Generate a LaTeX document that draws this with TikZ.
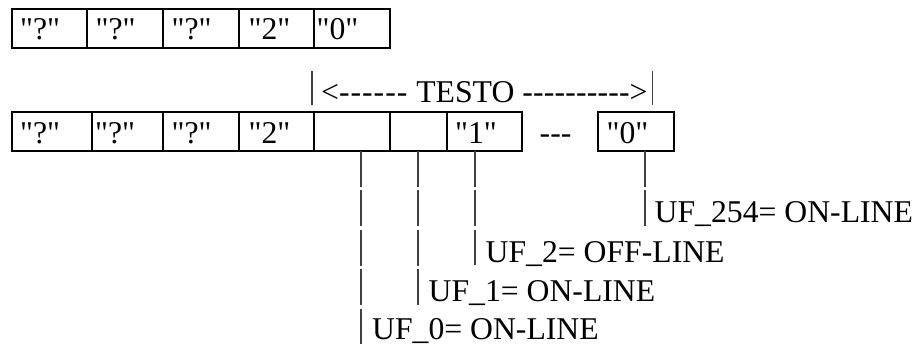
\documentclass[tikz,border=0pt]{standalone}
\usepackage{fontspec}
\setmainfont{Liberation Serif}[Ligatures=TeXOff]
\begin{document}
\begin{tikzpicture}[x=1pt,y=-1pt,
  cell/.style={draw=black, line width=2pt, anchor=north west, minimum height=39.5pt, inner sep=0pt, outer sep=0pt},
  txt/.style={anchor=base west, inner sep=0pt, font=\fontsize{31.7}{38}\selectfont},
  conn/.style={draw=black!75, line width=1.3pt, dash pattern=on 35.8pt off 3.6pt},
  bar/.style={draw=black!75, line width=1.3pt}]
\useasboundingbox (0,0) rectangle (919,345);
% row 1
\node[cell, minimum width=75pt] (a1) at (12,9) {};
\node[cell, minimum width=76pt] (a2) at (87,9) {};
\node[cell, minimum width=76pt] (a3) at (163,9) {};
\node[cell, minimum width=75pt] (a4) at (239,9) {};
\node[cell, minimum width=76pt] (a5) at (314,9) {};
\node[txt] (ta1) at (20,39.5) {"?"};
\node[txt] (ta2) at (95.5,39.5) {"?"};
\node[txt] (ta3) at (171.5,39.5) {"?"};
\node[txt] (ta4) at (248.5,39.5) {"2"};
\node[txt] (ta5) at (316.5,39.5) {"0"};
% testo
\coordinate (l1) at (312,71); \coordinate (l2) at (312,105);
\coordinate (r1) at (652.5,71); \coordinate (r2) at (652.5,105);
\draw[bar] (l1) -- (l2);
\draw[bar] (r1) -- (r2);
\node[txt] (testo) at (321,102.5) {<-\kern1pt-\kern1pt-\kern1pt-\kern1pt-\kern1pt-\kern1pt{} TESTO -\kern0.2pt-\kern0.2pt-\kern0.2pt-\kern0.2pt-\kern0.2pt-\kern0.2pt-\kern0.2pt-\kern0.2pt-\kern0.2pt->};
% row 2
\node[cell, minimum width=80pt] (b1) at (12,111.5) {};
\node[cell, minimum width=71pt] (b2) at (92,111.5) {};
\node[cell, minimum width=76pt] (b3) at (163,111.5) {};
\node[cell, minimum width=75pt] (b4) at (239,111.5) {};
\node[cell, minimum width=76pt] (b5) at (314,111.5) {};
\node[cell, minimum width=57pt] (b6) at (390,111.5) {};
\node[cell, minimum width=75pt] (b7) at (447,111.5) {};
\node[cell, minimum width=76pt] (bz) at (598,111.5) {};
\node[txt] (tb1) at (20,143) {"?"};
\node[txt] (tb2) at (95,143) {"?"};
\node[txt] (tb3) at (171.5,143) {"?"};
\node[txt] (tb4) at (248.5,143) {"2"};
\node[txt] (tb7) at (455,143) {"1"};
\node[txt] (dots) at (539.5,143) {---};
\node[txt] (tbz) at (606.5,143) {"0"};
% connectors
\coordinate (e0) at (361,345);
\coordinate (e1) at (418,305);
\coordinate (e2) at (475,265);
\coordinate (e3) at (645,225.5);
\draw[conn] (b5.south -| e0) -- (e0);
\draw[conn] (b6.south -| e1) -- (e1);
\draw[conn] (b7.south -| e2) -- (e2);
\draw[conn] (bz.south -| e3) -- (e3);
\node[txt] (u0) at (372,339) {UF\_0= ON-LINE};
\node[txt] (u1) at (428.5,301.5) {UF\_1= ON-LINE};
\node[txt] (u2) at (485.5,262) {UF\_2= OFF-LINE};
\node[txt] (u3) at (654.5,222) {UF\_254= ON-LINE};
\end{tikzpicture}
\end{document}
